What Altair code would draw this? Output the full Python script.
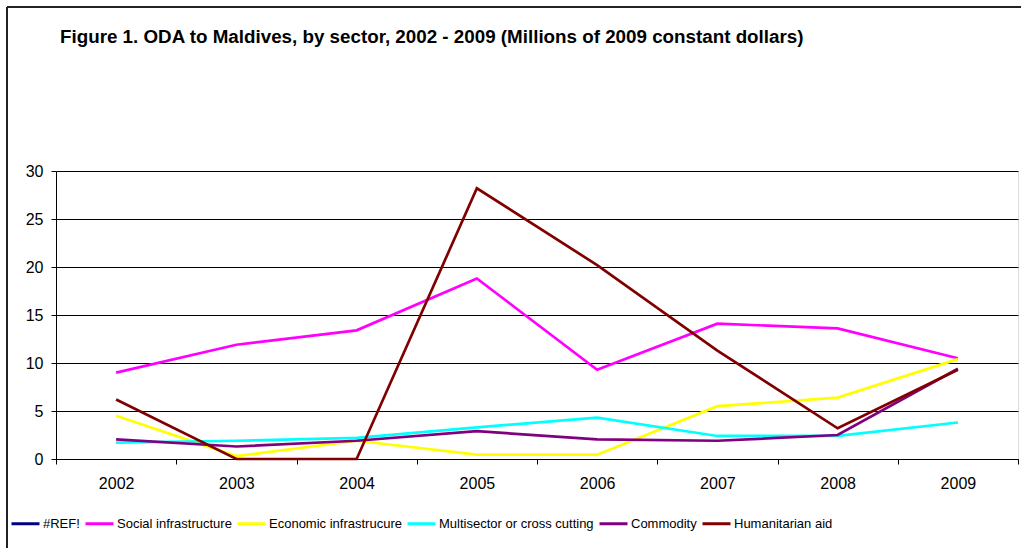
import altair as alt
import pandas as pd

years = ["2002", "2003", "2004", "2005", "2006", "2007", "2008", "2009"]
series_names = ["#REF!", "Social infrastructure", "Economic infrastrucure",
                "Multisector or cross cutting", "Commodity", "Humanitarian aid"]
series_colors = ["#000080", "#FF00FF", "#FFFF00", "#00FFFF", "#800080", "#800000"]
title_text = "Figure 1. ODA to Maldives, by sector, 2002 - 2009 (Millions of 2009 constant dollars)"

social = [9.0, 11.9, 13.4, 18.8, 9.3, 14.1, 13.6, 10.5]
economic = [4.5, 0.3, 1.9, 0.45, 0.45, 5.5, 6.4, 10.4]
multisector = [1.7, 1.9, 2.2, 3.3, 4.3, 2.4, 2.4, 3.8]
commodity = [2.05, 1.3, 1.9, 2.9, 2.05, 1.9, 2.5, 9.4]
humanitarian = [6.2, 0.0, 0.0, 28.2, 20.2, 11.3, 3.2, 9.3]

rows = []
for name, vals in [("Social infrastructure", social),
                   ("Economic infrastrucure", economic),
                   ("Multisector or cross cutting", multisector),
                   ("Commodity", commodity),
                   ("Humanitarian aid", humanitarian)]:
    for y, v in zip(years, vals):
        rows.append({"year": y, "value": v, "series": name})
df = pd.DataFrame(rows)

FONT = "Liberation Sans"

lines = alt.Chart(df).mark_line(strokeWidth=2.7).encode(
    x=alt.X("year:O", scale=alt.Scale(type="band", domain=years, paddingInner=0, paddingOuter=0),
            axis=alt.Axis(title=None, labelAngle=0, tickBand="extent", grid=False,
                          labelFontSize=16, labelFont=FONT, labelColor="black",
                          tickColor="black", domainColor="black", tickSize=5,
                          labelPadding=11)),
    y=alt.Y("value:Q", scale=alt.Scale(domain=[0, 30], nice=False),
            axis=alt.Axis(title=None, values=[0, 5, 10, 15, 20, 25, 30],
                          labelFontSize=16, labelFont=FONT, labelColor="black",
                          tickColor="black", domainColor="black", tickSize=5,
                          labelPadding=8, gridColor="black", gridOpacity=1)),
    color=alt.Color("series:N",
                    scale=alt.Scale(domain=series_names, range=series_colors),
                    sort=series_names,
                    legend=alt.Legend(title=None, orient="none", direction="horizontal",
                                      legendX=-46, legendY=337,
                                      symbolType="stroke", symbolSize=784,
                                      symbolStrokeWidth=3,
                                      labelFontSize=13, labelFont=FONT, labelColor="black",
                                      labelOffset=2, columnPadding=-1)),
)

title = alt.Chart(pd.DataFrame({"t": [title_text]})).mark_text(
    align="left", baseline="alphabetic", font=FONT, fontSize=18.8, fontWeight="bold",
    color="black").encode(text="t:N", x=alt.value(4), y=alt.value(-128))

border_left = alt.Chart(df).mark_rule(color="#222222", strokeWidth=2).encode(
    x=alt.value(-49), y=alt.value(-164), y2=alt.value(380))
border_top = alt.Chart(df).mark_rule(color="#222222", strokeWidth=2).encode(
    x=alt.value(-49), x2=alt.value(970), y=alt.value(-164))

chart = alt.layer(border_left, border_top, title, lines).properties(
    width=962, height=288,
    autosize=alt.AutoSizeParams(type="none"),
    padding={"left": 56, "top": 171, "right": 3, "bottom": 89},
).configure_view(stroke="#808080", strokeWidth=1.5).configure(background="white")

chart.save("out.html", embed_options={"renderer": "svg", "actions": False})
